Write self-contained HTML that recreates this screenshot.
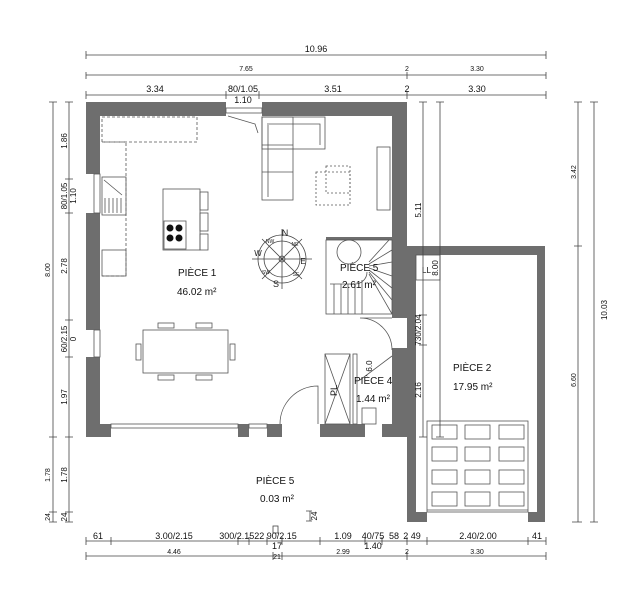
<!DOCTYPE html>
<html><head><meta charset="utf-8"><style>
html,body{margin:0;padding:0;background:#fff;}
svg{display:block;font-family:"Liberation Sans",sans-serif;}
</style></head><body>
<svg width="639" height="600" viewBox="0 0 639 600" xmlns="http://www.w3.org/2000/svg">
<g fill="#6e6e6e">
<rect x="86" y="102" width="140" height="14"/>
<rect x="262" y="102" width="145" height="14"/>
<rect x="86" y="102" width="14" height="72"/>
<rect x="86" y="213" width="14" height="117"/>
<rect x="86" y="357" width="14" height="80"/>
<rect x="392" y="102" width="15" height="216"/>
<rect x="392" y="348" width="15" height="89"/>
<rect x="86" y="424" width="25" height="13"/>
<rect x="238" y="424" width="11" height="13"/>
<rect x="267" y="424" width="15" height="13"/>
<rect x="320" y="424" width="45" height="13"/>
<rect x="382" y="424" width="25" height="13"/>
<rect x="407" y="246" width="138" height="9"/>
<rect x="407" y="246" width="9" height="276"/>
<rect x="537" y="246" width="8" height="276"/>
<rect x="407" y="512" width="20" height="10"/>
<rect x="528" y="512" width="17" height="10"/>
<rect x="326" y="237" width="66" height="3"/>
</g>
<g fill="none" stroke="#555" stroke-width="0.8">
<rect x="226" y="108" width="36" height="5"/>
<path d="M228 116 L255 124 L258 133"/>
<rect x="94" y="174" width="6" height="39"/><rect x="94" y="330" width="6" height="27"/>
<rect x="111" y="424" width="127" height="4"/>
<rect x="249" y="424" width="18" height="4"/>
<rect x="102" y="117" width="95" height="25" stroke-dasharray="3 2"/>
<path d="M102 142 H126 V276 H102" stroke-dasharray="3 2"/>
<rect x="102" y="177" width="24" height="38"/><path d="M104 180 L122 195 M105 198 V213 M109 198 V213 M113 198 V213 M117 198 V213 M121 198 V213"/>
<rect x="102" y="250" width="24" height="26"/>
<rect x="163" y="189" width="37" height="61"/>
<rect x="164" y="221" width="22" height="28"/>
<rect x="200" y="192" width="8" height="18"/><rect x="200" y="213" width="8" height="18"/><rect x="200" y="234" width="8" height="16"/>
<rect x="262" y="117" width="63" height="32"/><rect x="262" y="117" width="31" height="83"/>
<path d="M267 124 H320 V145 M268 125 V197 M293 145 H262 M262 172 H293"/>
<rect x="316" y="172" width="34" height="33" stroke-dasharray="2 2"/>
<rect x="326" y="166" width="24" height="27" stroke-dasharray="2 2"/>
<rect x="377" y="147" width="13" height="63"/>
<rect x="143" y="330" width="85" height="43"/>
<rect x="158" y="323" width="16" height="5"/><rect x="196" y="323" width="16" height="5"/>
<rect x="158" y="375" width="16" height="5"/><rect x="196" y="375" width="16" height="5"/>
<rect x="136" y="344" width="5" height="16"/><rect x="230" y="344" width="5" height="16"/>
<path d="M318 424 V386 A38 38 0 0 0 280 424"/>
<path d="M392 318 H360 A32 32 0 0 1 392 350"/>
<path d="M360 380 L392 356"/>
<rect x="326" y="240" width="66" height="74"/>
<path d="M330 284 H355 A12 12 0 0 0 367 272 M334 284 V314 M341 284 V314 M348 284 V314 M355 284 V314 M362 280 V314 M369 274 L392 314 M369 272 L392 300 M369 270 L392 288 M369 268 L392 276 M369 266 L392 262 M369 264 L392 250 M369 262 L389 240"/>
<circle cx="349" cy="252" r="12"/>
<rect x="325" y="354" width="25" height="70"/><path d="M325 354 L350 424 M350 354 L325 424"/>
<rect x="353" y="354" width="4" height="70"/>
<rect x="362" y="408" width="14" height="16"/>
<rect x="427" y="421" width="101" height="91"/>
<line x1="427" y1="510" x2="528" y2="510"/>
</g>
<g fill="none" stroke="#555" stroke-width="0.8">
<rect x="432" y="425" width="25" height="14"/><rect x="465" y="425" width="25" height="14"/><rect x="499" y="425" width="25" height="14"/>
<rect x="432" y="447" width="25" height="14"/><rect x="465" y="447" width="25" height="14"/><rect x="499" y="447" width="25" height="14"/>
<rect x="432" y="470" width="25" height="14"/><rect x="465" y="470" width="25" height="14"/><rect x="499" y="470" width="25" height="14"/>
<rect x="432" y="492" width="25" height="14"/><rect x="465" y="492" width="25" height="14"/><rect x="499" y="492" width="25" height="14"/>
<rect x="416" y="255" width="24" height="25"/>
</g>
<g fill="#111">
<circle cx="170" cy="228" r="3.5"/><circle cx="179" cy="228" r="3.5"/><circle cx="170" cy="238" r="3.5"/><circle cx="179" cy="238" r="3.5"/>
</g>
<g fill="none" stroke="#444" stroke-width="0.8">
<circle cx="282" cy="259" r="24"/><circle cx="282" cy="259" r="18"/><circle cx="282" cy="259" r="3"/>
<path d="M282 229 V289 M252 259 H312 M262 239 L302 279 M302 239 L262 279"/>
</g>
<g font-size="7" text-anchor="middle" fill="#222">
<text x="285" y="236" font-size="9">N</text><text x="276" y="287" font-size="9">S</text>
<text x="258" y="256" font-size="8">W</text><text x="303" y="264" font-size="8">E</text>
<text x="270" y="243" font-size="5">NW</text><text x="295" y="246" font-size="5">NE</text>
<text x="266" y="274" font-size="5">SW</text><text x="296" y="276" font-size="5">SE</text>
</g>
<g font-size="10" fill="#111">
<text x="178" y="276">PIÈCE 1</text><text x="177" y="295">46.02 m²</text>
<text x="340" y="271">PIÈCE 5</text><text x="342" y="288">2.61 m²</text>
<text x="354" y="384">PIÈCE 4</text><text x="356" y="402">1.44 m²</text>
<text x="453" y="371">PIÈCE 2</text><text x="453" y="390">17.95 m²</text>
<text x="256" y="484">PIÈCE 5</text><text x="260" y="502">0.03 m²</text>
</g>
<text x="337" y="396" font-size="9" transform="rotate(-90 337 396)" fill="#111">PL</text>
<text x="422" y="273" font-size="8" fill="#111">LL</text>
<g stroke="#444" stroke-width="0.8" fill="none">
<path d="M86 55 H546 M86 51 V59 M546 51 V59"/>
<path d="M86 75 H546 M86 72 V79 M407 72 V79 M546 72 V79"/>
<path d="M86 95 H546 M86 91 V99 M226 91 V99 M259 91 V99 M407 91 V99 M546 91 V99"/>
<path d="M53 102 V522 M49 102 H57 M49 437 H57 M49 512 H57 M49 522 H57"/>
<path d="M69 102 V522 M65 102 H73 M65 179 H73 M65 213 H73 M65 320 H73 M65 357 H73 M65 437 H73 M65 512 H73 M65 522 H73"/>
<path d="M423 102 V437 M419 102 H427 M419 437 H427 M419 315 H427 M419 345 H427"/>
<path d="M440 102 V437 M436 102 H444 M436 437 H444"/>
<path d="M578 102 V522 M574 102 H582 M574 246 H582 M572 522 H582"/>
<path d="M594 102 V522 M590 102 H598 M590 522 H598"/>
<path d="M86 541 H546 M86 537 V545 M111 537 V545 M238 537 V545 M249 537 V545 M267 537 V545 M282 537 V545 M320 537 V545 M365 537 V545 M382 537 V545 M407 537 V545 M427 537 V545 M528 537 V545 M546 537 V545"/>
<path d="M86 556 H546 M86 552 V560 M273 552 V560 M282 552 V560 M407 552 V560 M546 552 V560"/>
<rect x="273" y="526" width="5" height="7"/>
<path d="M310 511 V521 M306 511 H312 M306 521 H312"/>
</g>
<g font-size="9" fill="#111" text-anchor="middle">
<text x="316" y="52">10.96</text>
<text x="246" y="71" font-size="7">7.65</text><text x="407" y="71" font-size="7">2</text><text x="477" y="71" font-size="7">3.30</text>
<text x="155" y="92">3.34</text><text x="243" y="92">80/1.05</text><text x="243" y="103">1.10</text><text x="333" y="92">3.51</text><text x="407" y="92">2</text><text x="477" y="92">3.30</text>
<text x="98" y="539">61</text><text x="174" y="539">3.00/2.15</text><text x="258" y="539">300/2.1522 90/2.15</text><text x="343" y="539">1.09</text><text x="373" y="539">40/75</text><text x="394" y="539">58</text><text x="412" y="539">2 49</text><text x="478" y="539">2.40/2.00</text><text x="537" y="539">41</text>
<text x="373" y="549">1.40</text><text x="277" y="549">17</text>
<text x="174" y="554" font-size="7">4.46</text><text x="277" y="559" font-size="7">21</text><text x="343" y="554" font-size="7">2.99</text><text x="407" y="554" font-size="7">2</text><text x="477" y="554" font-size="7">3.30</text>
</g>
<g font-size="8" fill="#111" text-anchor="middle">
<text transform="translate(50 270) rotate(-90)" font-size="7">8.00</text>
<text transform="translate(50 475) rotate(-90)" font-size="7">1.78</text>
<text transform="translate(50 517) rotate(-90)" font-size="7">24</text>
<text transform="translate(67 141) rotate(-90)">1.86</text>
<text transform="translate(67 196) rotate(-90)">80/1.05</text>
<text transform="translate(76 196) rotate(-90)">1.10</text>
<text transform="translate(67 266) rotate(-90)">2.78</text>
<text transform="translate(67 339) rotate(-90)">60/2.15</text>
<text transform="translate(76 339) rotate(-90)">0</text>
<text transform="translate(67 397) rotate(-90)">1.97</text>
<text transform="translate(67 475) rotate(-90)">1.78</text>
<text transform="translate(67 517) rotate(-90)">24</text>
<text transform="translate(421 210) rotate(-90)">5.11</text>
<text transform="translate(421 330) rotate(-90)">730/2.04</text>
<text transform="translate(421 390) rotate(-90)">2.16</text>
<text transform="translate(438 268) rotate(-90)">8.00</text>
<text transform="translate(576 172) rotate(-90)" font-size="7">3.42</text>
<text transform="translate(576 380) rotate(-90)" font-size="7">6.60</text>
<text transform="translate(607 310) rotate(-90)">10.03</text>
<text transform="translate(317 516) rotate(-90)">24</text>
<text transform="translate(372 366) rotate(-90)">6.0</text>
</g>
</svg>
</body></html>
